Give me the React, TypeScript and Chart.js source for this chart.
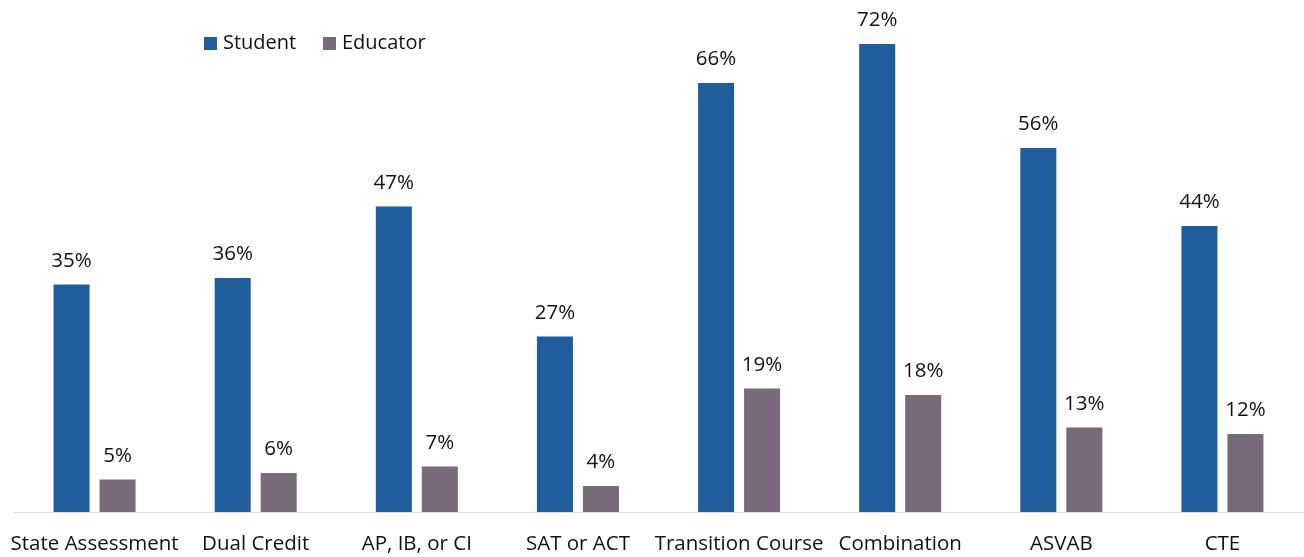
import React, { useEffect, useRef } from 'react';
import { Chart, registerables } from 'chart.js';

Chart.register(...registerables);

const categories = [
  'State Assessment',
  'Dual Credit',
  'AP, IB, or CI',
  'SAT or ACT',
  'Transition Course',
  'Combination',
  'ASVAB',
  'CTE',
];
const studentValues = [35, 36, 47, 27, 66, 72, 56, 44];
const educatorValues = [5, 6, 7, 4, 19, 18, 13, 12];
const seriesNames = ['Student', 'Educator'];
const seriesColors = ['#1F5D9C', '#796A7B'];

const FONT_FAMILY = '"Open Sans", sans-serif';
const TEXT_COLOR = '#111111';

const barLabelsPlugin = {
  id: 'barLabels',
  afterDatasetsDraw(chart: any) {
    const ctx = chart.ctx;
    ctx.save();
    ctx.font = `20.5px ${FONT_FAMILY}`;
    ctx.fillStyle = TEXT_COLOR;
    ctx.textAlign = 'center';
    ctx.textBaseline = 'alphabetic';
    chart.data.datasets.forEach((ds: any, i: number) => {
      const meta = chart.getDatasetMeta(i);
      meta.data.forEach((bar: any, j: number) => {
        ctx.fillText(`${ds.data[j]}%`, bar.x, bar.y - 18);
      });
    });
    ctx.restore();
  },
};

const legendPlugin = {
  id: 'customLegend',
  afterDraw(chart: any) {
    const ctx = chart.ctx;
    ctx.save();
    ctx.font = `20px ${FONT_FAMILY}`;
    ctx.textAlign = 'left';
    ctx.textBaseline = 'middle';
    const startXs = [204, 323];
    chart.data.datasets.forEach((ds: any, i: number) => {
      const x = startXs[i];
      ctx.fillStyle = ds.backgroundColor;
      ctx.fillRect(x, 37, 13, 13);
      ctx.fillStyle = TEXT_COLOR;
      ctx.fillText(ds.label, x + 19, 43.5);
    });
    ctx.restore();
  },
};

export default function App() {
  const canvasRef = useRef<HTMLCanvasElement | null>(null);

  useEffect(() => {
    if (!canvasRef.current) return;
    const chart = new Chart(canvasRef.current, {
      type: 'bar',
      data: {
        labels: categories,
        datasets: [
          {
            label: seriesNames[0],
            data: studentValues,
            backgroundColor: seriesColors[0],
            categoryPercentage: 0.571,
            barPercentage: 0.783,
          },
          {
            label: seriesNames[1],
            data: educatorValues,
            backgroundColor: seriesColors[1],
            categoryPercentage: 0.571,
            barPercentage: 0.783,
          },
        ],
      },
      options: {
        animation: false,
        responsive: true,
        maintainAspectRatio: false,
        layout: { padding: { left: 14, right: 1, top: 5, bottom: 0 } },
        plugins: {
          legend: { display: false },
          tooltip: { enabled: false },
        },
        scales: {
          x: {
            grid: { display: false, drawTicks: false },
            border: { display: true, color: '#D9D9D9', width: 1 },
            ticks: {
              color: TEXT_COLOR,
              font: { family: FONT_FAMILY, size: 20.5 },
              padding: 20,
              maxRotation: 0,
              autoSkip: false,
            },
            afterFit: (scale: any) => {
              scale.height = 45;
              scale.paddingLeft = 0;
              scale.paddingRight = 0;
            },
          },
          y: {
            display: false,
            min: 0,
            max: 78,
          },
        },
      },
      plugins: [barLabelsPlugin, legendPlugin],
    });
    return () => chart.destroy();
  }, []);

  return (
    <div style={{ position: 'fixed', left: 0, top: 0, width: 1304, height: 557, background: '#fff' }}>
      <canvas ref={canvasRef} />
    </div>
  );
}
